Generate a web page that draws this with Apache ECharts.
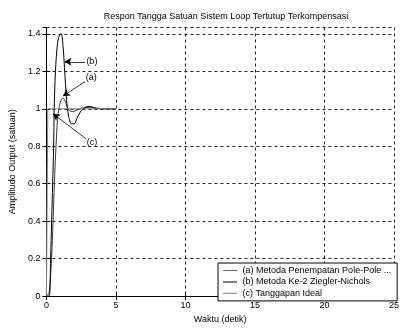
<!DOCTYPE html>
<html><head><meta charset="utf-8">
<script src="https://cdn.jsdelivr.net/npm/echarts@6/dist/echarts.min.js"></script>
<style>html,body{margin:0;padding:0;background:#fff}#c{width:402px;height:329px}</style>
</head><body><div id="c"></div>
<script>
const titleText = 'Respon Tangga Satuan Sistem Loop Tertutup Terkompensasi';
const xName = 'Waktu (detik)';
const yName = 'Amplitudo Output (satuan)';
const seriesNames = ['(a) Metoda Penempatan Pole-Pole ...', '(b) Metoda Ke-2 Ziegler-Nichols', '(c) Tanggapan Ideal'];

// (a) pole placement
const timeA = [0, 0.2, 0.4, 0.6, 0.8, 0.9, 1.0, 1.1, 1.2, 1.3, 1.4, 1.55, 1.7, 1.9, 2.2, 2.5, 2.9, 3.3, 3.8, 4.3, 5.0];
const valA  = [0, 0.02, 0.25, 0.65, 0.95, 1.0, 1.035, 1.052, 1.057, 1.05, 1.03, 1.0, 0.988, 0.985, 0.993, 1.002, 1.008, 1.005, 1.0, 1.0, 1.0];
// (b) Ziegler-Nichols
const timeB = [0, 0.2, 0.3, 0.45, 0.52, 0.56, 0.65, 0.8, 0.95, 1.07, 1.2, 1.3, 1.45, 1.6, 1.8, 2.0, 2.2, 2.5, 2.8, 3.0, 3.3, 3.6, 4.0, 4.5, 5.0];
const valB  = [0, 0.0, 0.2, 0.6, 0.8, 1.0, 1.2, 1.35, 1.395, 1.4, 1.33, 1.22, 1.05, 0.96, 0.92, 0.92, 0.95, 0.99, 1.008, 1.012, 1.01, 1.004, 1.0, 1.0, 1.0];
// (c) ideal
const timeC = [0, 0.1, 0.1, 5.0];
const valC  = [0, 0, 1, 1];

// annotations: [label, labelT, labelV, tailT, tailV, tipT, tipV]
const notes = [
  ['(b)', 3.27, 1.251, 2.77, 1.251, 1.30, 1.251],
  ['(a)', 3.23, 1.166, 2.77, 1.145, 1.19, 1.068],
  ['(c)', 3.27, 0.818, 2.84, 0.840, 0.47, 0.974]
];

const xMin = 0, xMax = 25, xInterval = 5;
const yMin = 0, yMax = 1.434, yInterval = 0.2;

const zip = (a, b) => a.map((t, i) => [t, b[i]]);
const font = 'Liberation Sans, Arial, sans-serif';
const lineIcon = 'path://M0,0H0.01V0.01H0Z M0,5.5H15V6.5H0Z M15,12H14.99V11.99H15Z';
const seriesColors = ['#3a3a3a', '#000000', '#808080'];
const grid = {left: 45, right: 4, top: 27.5, bottom: 25, show: false};
const gridLine = {show: true, lineStyle: {color: '#222', type: [3, 3], width: 1}};
const axLine = {show: true, lineStyle: {color: '#000', width: 1}};
const tick = {show: true, inside: true, length: 4, lineStyle: {color: '#000'}};

const chart = echarts.init(document.getElementById('c'), null, {renderer: 'canvas'});
chart.setOption({
  animation: false,
  backgroundColor: '#fff',
  title: {text: titleText, left: 221, top: 7, textAlign: 'center',
    textStyle: {fontFamily: font, fontSize: 9, fontWeight: 'normal', color: '#000'}},
  grid: grid,
  legend: {
    data: seriesNames.map((n, i) => ({name: n, icon: lineIcon, itemStyle: {color: seriesColors[i], borderWidth: 0}})),
    orient: 'vertical', left: 218, top: 263,
    backgroundColor: '#fff', borderColor: '#000', borderWidth: 1,
    padding: [2, 6, 2, 5], itemGap: 0, itemWidth: 15, itemHeight: 11.3,
    textStyle: {fontFamily: font, fontSize: 9, color: '#000'}
  },
  xAxis: [{
    type: 'value', min: xMin, max: xMax, interval: xInterval,
    name: xName, nameLocation: 'middle', nameGap: 16,
    nameTextStyle: {fontFamily: font, fontSize: 9, color: '#000'},
    axisLine: axLine, axisTick: tick, splitLine: gridLine,
    axisLabel: {fontFamily: font, fontSize: 9, color: '#000', margin: 5}
  }, {
    type: 'value', position: 'top', min: xMin, max: xMax, interval: xInterval,
    axisLine: axLine, axisTick: tick, splitLine: {show: false}, axisLabel: {show: false}
  }],
  yAxis: [{
    type: 'value', min: yMin, max: yMax, interval: yInterval,
    name: yName, nameLocation: 'middle', nameGap: 20,
    nameTextStyle: {fontFamily: font, fontSize: 9, color: '#000'},
    axisLine: axLine, axisTick: tick, splitLine: gridLine,
    axisLabel: {fontFamily: font, fontSize: 9, color: '#000', margin: 6, showMaxLabel: false}
  }, {
    type: 'value', position: 'right', min: yMin, max: yMax, interval: yInterval,
    axisLine: axLine, axisTick: tick, splitLine: {show: false}, axisLabel: {show: false}
  }],
  series: [
    {name: seriesNames[0], type: 'line', data: zip(timeA, valA), symbol: 'none', smooth: 0.3,
     lineStyle: {color: seriesColors[0], width: 1}, itemStyle: {color: seriesColors[0]}},
    {name: seriesNames[1], type: 'line', data: zip(timeB, valB), symbol: 'none', smooth: 0.3,
     lineStyle: {color: seriesColors[1], width: 1}, itemStyle: {color: seriesColors[1]},
     markLine: {
       silent: true, animation: false, symbol: ['none', 'arrow'], symbolSize: [6, 7],
       lineStyle: {color: '#000', width: 0.8, type: 'solid'}, label: {show: false},
       data: notes.map(n => [{coord: [n[3], n[4]]}, {coord: [n[5], n[6]]}])
     },
     markPoint: {
       silent: true, symbol: 'circle', symbolSize: 0,
       label: {show: true, position: 'inside', fontFamily: font, fontSize: 9, color: '#000'},
       data: notes.map(n => ({coord: [n[1], n[2]], value: n[0], label: {formatter: n[0]}}))
     }},
    {name: seriesNames[2], type: 'line', data: zip(timeC, valC), symbol: 'none',
     lineStyle: {color: seriesColors[2], width: 1}, itemStyle: {color: seriesColors[2]}}
  ]
});
</script></body></html>
